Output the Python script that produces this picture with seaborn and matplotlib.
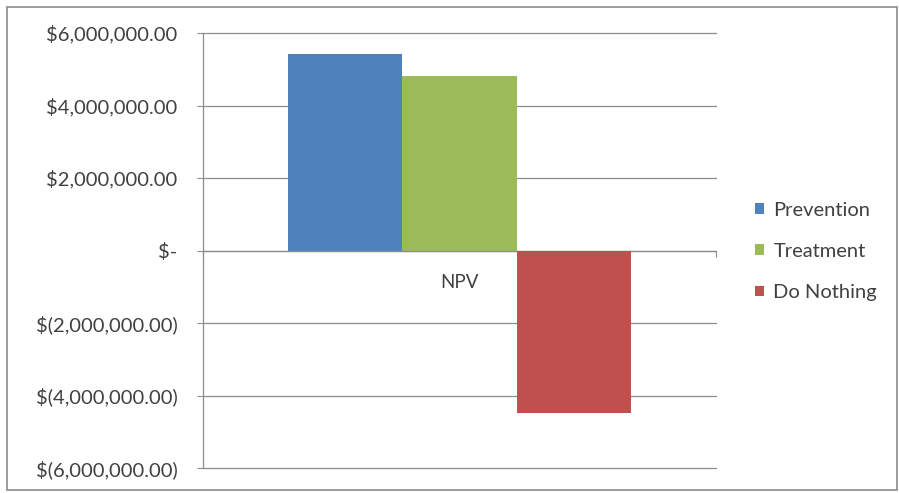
import matplotlib
matplotlib.use("Agg")
import matplotlib.pyplot as plt
import matplotlib.ticker as mticker
from matplotlib.patches import Rectangle
import pandas as pd
import seaborn as sns

# NPV by strategy
metric = ["NPV", "NPV", "NPV"]
strategies = ["Prevention", "Treatment", "Do Nothing"]
npv_values = [5430000, 4810000, -4470000]
bar_colors = ["#4F81BD", "#9BBB59", "#C0504D"]
y_ticks = [-6000000, -4000000, -2000000, 0, 2000000, 4000000, 6000000]

df = pd.DataFrame({"metric": metric, "strategy": strategies, "value": npv_values})

sns.set_theme(style="white")
plt.rcParams["font.family"] = ["Lato", "DejaVu Sans"]

fig = plt.figure(figsize=(8.99, 4.93), dpi=100)
ax = fig.add_axes([0.2258, 0.0507, 0.7964 - 0.2258, 0.933 - 0.0507])

sns.barplot(data=df, x="metric", y="value", hue="strategy",
            hue_order=strategies, palette=bar_colors, width=0.667,
            saturation=1, edgecolor="none", linewidth=0, ax=ax, zorder=3)

ax.set_xlim(-0.5, 0.5)
ax.set_ylim(-6000000, 6000000)
ax.set_yticks(y_ticks)


def accounting(v, pos):
    if abs(v) < 0.5:
        return "$-"
    if v < 0:
        return "$({:,.2f})".format(-v)
    return "${:,.2f}".format(v)


ax.yaxis.set_major_formatter(mticker.FuncFormatter(accounting))
ax.yaxis.grid(True, color="#8C8C8C", linewidth=0.9, zorder=0)
for gl in ax.get_ygridlines():
    gl.set_clip_on(False)
ax.set_axisbelow(True)

text_color = "#404040"
fs = 14.5
ax.tick_params(axis="y", which="major", direction="out", length=4.3, width=0.8,
               color="#8C8C8C", pad=14, labelsize=fs, labelcolor=text_color, left=True)

# Category axis sits on the zero line
for side in ["top", "right"]:
    ax.spines[side].set_visible(False)
ax.spines["bottom"].set_position(("data", 0))
ax.spines["bottom"].set_color("#8C8C8C")
ax.spines["bottom"].set_linewidth(0.9)
ax.spines["left"].set_color("#8C8C8C")
ax.spines["left"].set_linewidth(0.9)

ax.set_xticks([0])
ax.set_xticklabels(["NPV"])
ax.set_xticks([-0.5, 0.5], minor=True)
ax.tick_params(axis="x", which="major", length=0, pad=17, labelsize=fs - 1,
               labelcolor=text_color)
ax.tick_params(axis="x", which="minor", direction="out", length=4.3, width=0.8,
               color="#8C8C8C", bottom=True)
ax.set_xlabel("")
ax.set_ylabel("")

handles, labels = ax.get_legend_handles_labels()
ax.legend(handles, labels, loc="center left", bbox_to_anchor=(0.82, 0.49),
          bbox_transform=fig.transFigure, frameon=False, fontsize=fs,
          handlelength=0.45, handleheight=0.45, handletextpad=0.45,
          labelspacing=1.2, labelcolor=text_color)

# Chart border
fig.patches.append(Rectangle((7 / 899, 3 / 493), 890 / 899, 483 / 493,
                             transform=fig.transFigure, fill=False,
                             edgecolor="#8C8C8C", linewidth=1.2))

fig.savefig("out.png", dpi=100, facecolor="white")
